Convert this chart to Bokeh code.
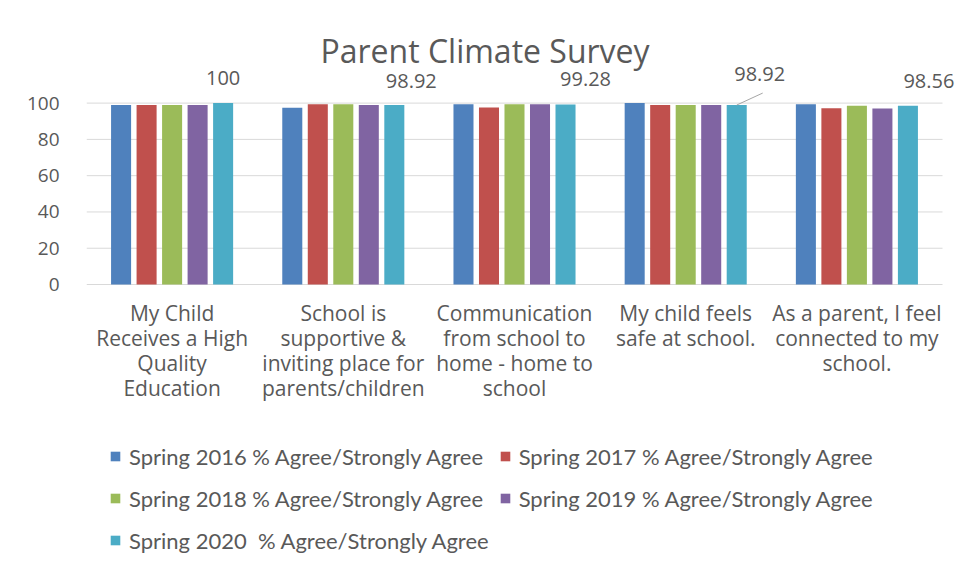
from bokeh.plotting import figure
from bokeh.models import (ColumnDataSource, FixedTicker, LabelSet, Legend, LegendItem,
                          Range1d, Label)
from bokeh.core.properties import value
from bokeh.transform import dodge
from bokeh.embed import file_html
from bokeh.resources import INLINE

# ---- data ----
categories = [
    "My Child\nReceives a High\nQuality\nEducation",
    "School is\nsupportive &\ninviting place for\nparents/children",
    "Communication\nfrom school to\nhome - home to\nschool",
    "My child feels\nsafe at school.",
    "As a parent, I feel\nconnected to my\nschool.",
]
series_names = [
    "Spring 2016 % Agree/Strongly Agree",
    "Spring 2017 % Agree/Strongly Agree",
    "Spring 2018 % Agree/Strongly Agree",
    "Spring 2019 % Agree/Strongly Agree",
    "Spring 2020  % Agree/Strongly Agree",
]
s2016 = [99.0, 97.5, 99.3, 100.0, 99.3]
s2017 = [99.0, 99.3, 97.6, 99.0, 97.2]
s2018 = [99.0, 99.3, 99.3, 99.0, 98.6]
s2019 = [99.0, 99.0, 99.3, 98.9, 97.0]
s2020 = [100.0, 98.92, 99.28, 98.92, 98.56]
y_ticks = [0, 20, 40, 60, 80, 100]
title_text = "Parent Climate Survey"

# ---- styles ----
colors = ["#4F81BD", "#C0504D", "#9BBB59", "#8064A2", "#4BACC6"]
TEXT = "#595959"
GRID = "#D9D9D9"
FONT = "Open Sans"
W, H = 955, 577
LEFT = 86
ZERO_Y = 284        # pixel row of value 0
PX_X = 171.2        # pixels per category
PX_Y = 1.814        # pixels per percent
FRAME_W = W - LEFT
step = 0.149
bar_w = 0.117
n = len(categories)

xs = list(range(n))
src = ColumnDataSource(dict(x=xs, s2016=s2016, s2017=s2017, s2018=s2018,
                            s2019=s2019, s2020=s2020))

p = figure(width=W, height=H, output_backend="svg", toolbar_location=None,
           x_range=Range1d(-0.5, -0.5 + FRAME_W / PX_X),
           y_range=Range1d(-(H - ZERO_Y) / PX_Y, ZERO_Y / PX_Y),
           min_border_left=LEFT, min_border_right=0,
           min_border_top=0, min_border_bottom=0)
p.outline_line_color = None
p.background_fill_color = "white"
p.border_fill_color = "white"

# horizontal gridlines (incl. baseline) spanning the category area
p.segment(x0=[-0.5] * len(y_ticks), y0=y_ticks, x1=[n - 0.5] * len(y_ticks), y1=y_ticks,
          line_color=GRID, line_width=1)

renderers = []
for k, (col, c) in enumerate(zip(["s2016", "s2017", "s2018", "s2019", "s2020"], colors)):
    r = p.vbar(x=dodge("x", (k - 2) * step), top=col, width=bar_w, source=src,
               fill_color=c, line_color=None)
    renderers.append(r)

# data labels for 2020 series
lab_x = [x + 2 * step for x in xs]
lab_xoff = [0, 17, 20, 23, 21]
lab_yoff = [25, 24, 25, 31, 25]
lab_src = ColumnDataSource(dict(x=lab_x, y=s2020, text=[f"{v:g}" for v in s2020],
                                xo=lab_xoff, yo=lab_yoff))
p.add_layout(LabelSet(x="x", y="y", text="text", source=lab_src, x_offset="xo",
                      y_offset="yo", text_align="center", text_baseline="middle",
                      text_font=value(FONT), text_font_size="20px", text_color=TEXT))
# leader line for the shifted label (group 4)
i = 3
p.segment(x0=[lab_x[i]], y0=[s2020[i]], x1=[lab_x[i] + 26 / PX_X],
          y1=[s2020[i] + 12 / PX_Y], line_color="#A6A6A6", line_width=1)

# category labels under the baseline
cat_src = ColumnDataSource(dict(x=xs, y=[0] * n, text=categories))
p.text(x="x", y="y", text="text", source=cat_src, y_offset=14,
       text_align="center", text_baseline="top", text_font=value(FONT),
       text_font_size="21px", text_color=TEXT, text_line_height=0.9)

# title
p.add_layout(Label(x=234, y=H - 50, x_units="screen", y_units="screen",
                   text=title_text, text_font=FONT, text_font_size="32px",
                   text_color=TEXT, text_baseline="middle", text_align="left"))

# axes
p.xaxis.visible = False
p.xgrid.grid_line_color = None
p.ygrid.grid_line_color = None
p.yaxis.ticker = FixedTicker(ticks=y_ticks)
p.yaxis.axis_line_color = None
p.yaxis.major_tick_line_color = None
p.yaxis.minor_tick_line_color = None
p.yaxis.major_label_standoff = 21
p.yaxis.major_label_text_font = FONT
p.yaxis.major_label_text_font_size = "19px"
p.yaxis.major_label_text_color = TEXT

legend = Legend(items=[LegendItem(label=s, renderers=[r]) for s, r in zip(series_names, renderers)],
                location=(23, 21), orientation="horizontal", ncols=2,
                glyph_width=12, glyph_height=12, label_standoff=8, spacing=10,
                label_height=32, padding=10, margin=0,
                label_text_font="Lato", label_text_font_size="22px", label_text_color=TEXT,
                border_line_color=None, background_fill_alpha=0)
p.add_layout(legend, "center")

open("out.html", "w").write(file_html(p, INLINE))
